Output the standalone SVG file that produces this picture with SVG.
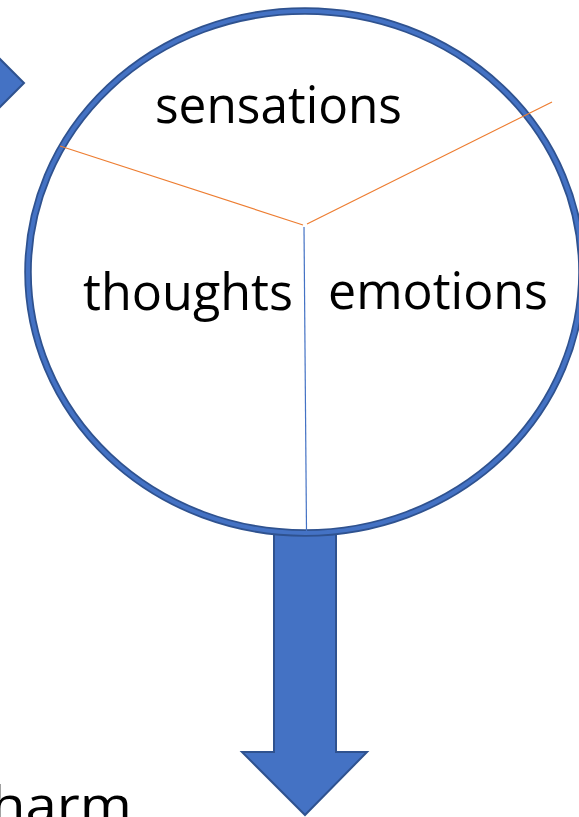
<svg xmlns="http://www.w3.org/2000/svg" width="579" height="817" viewBox="0 0 579 817">
<style>
.lbl{font-family:"Open Sans","Liberation Sans",sans-serif;font-size:52px;fill:#000}
.shape{fill:#4472C4;stroke:#2F528F;stroke-width:2;stroke-linejoin:miter}
</style>
<rect width="579" height="817" fill="#fff"/>
<g id="small-arrow"><polygon class="shape" points="-2,57 24,83 -2,109"/></g>
<g id="down-arrow"><polygon class="shape" points="274,530 336,530 336,752 367,752 305,815 242,752 274,752"/></g>
<g id="circle">
<ellipse cx="305" cy="272" rx="277" ry="261" fill="#fff" stroke="#2F528F" stroke-width="7.5"/>
<ellipse cx="305" cy="272" rx="277" ry="261" fill="none" stroke="#4472C4" stroke-width="4"/>
</g>
<g id="connectors" fill="none" stroke-width="1.2">
<line x1="60" y1="146" x2="303" y2="225" stroke="#ED7D31"/>
<line x1="307" y1="224" x2="552" y2="102" stroke="#ED7D31"/>
<line x1="304" y1="227" x2="306.5" y2="531" stroke="#4472C4"/>
</g>
<g id="sensations"><text class="lbl" x="155" y="123" textLength="247" lengthAdjust="spacingAndGlyphs">sensations</text></g>
<g id="thoughts"><text class="lbl" x="83" y="310" textLength="210" lengthAdjust="spacingAndGlyphs">thoughts</text></g>
<g id="emotions"><text class="lbl" x="328" y="309" textLength="220" lengthAdjust="spacingAndGlyphs">emotions</text></g>
<g id="harm"><text class="lbl" x="-9" y="823" textLength="141" lengthAdjust="spacingAndGlyphs">harm</text></g>
</svg>
